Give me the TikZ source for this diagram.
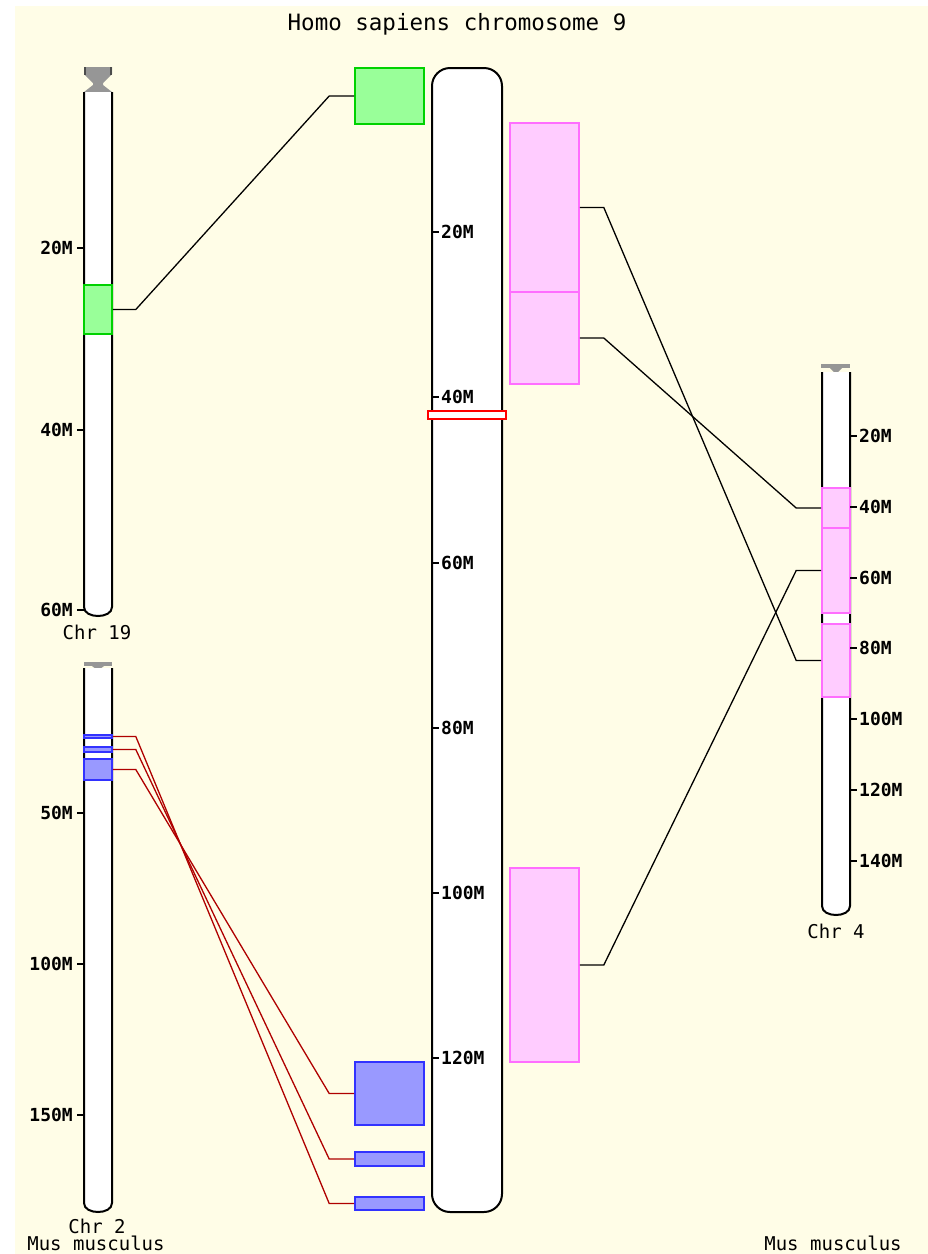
\documentclass[tikz,border=0pt]{standalone}
\usepackage{fontspec}
\setmonofont{DejaVu Sans Mono}
\definecolor{cream}{RGB}{255,253,231}
\definecolor{hitgreen}{RGB}{153,255,153}
\definecolor{edgegreen}{RGB}{0,210,0}
\definecolor{hitpink}{RGB}{255,204,255}
\definecolor{edgepink}{RGB}{255,110,255}
\definecolor{hitblue}{RGB}{153,153,255}
\definecolor{edgeblue}{RGB}{50,50,255}
\definecolor{linkred}{RGB}{175,0,0}
\definecolor{capgray}{RGB}{150,150,150}
\tikzset{chrom/.style={draw=black, fill=white, line width=2pt},
  hit/.style={rectangle, inner sep=0pt, line width=1.6pt},
  greenhit/.style={hit, draw=edgegreen, fill=hitgreen},
  pinkhit/.style={hit, draw=edgepink, fill=hitpink},
  bluehit/.style={hit, draw=edgeblue, fill=hitblue},
  link/.style={black, line width=1.3pt},
  redlink/.style={linkred, line width=1.3pt},
  mtick/.style={black, line width=2pt},
  ticklab/.style={inner sep=0pt, font=\ttfamily\bfseries\fontsize{18}{18}\selectfont},
  chrlab/.style={inner sep=0pt, text height=12pt, text depth=1pt, font=\ttfamily\fontsize{19}{19}\selectfont}}

\begin{document}
\begin{tikzpicture}[x=1pt, y=-1pt]
  \useasboundingbox (0,0) rectangle (928,1254);
  \fill[white] (0,0) rectangle (928,1254);
  \fill[cream] (15,6) rectangle (928,1254);
  \node[chrlab, text height=16pt, font=\ttfamily\fontsize{22.5}{22.5}\selectfont] (title) at (457,23) {Homo sapiens chromosome 9};

  \begin{scope}
   \fill[capgray] (84,67) -- (112,67) -- (112,74) -- (103,83) -- (103,85) -- (112,92)
     -- (84,92) -- (93,85) -- (93,83) -- (84,74) -- cycle;
   \draw[black!70, line width=2pt] (85,67) -- (85,75) (111,67) -- (111,75);
   \draw[chrom] (84,92) -- (84,607) .. controls (84,619) and (112,619) .. (112,607) -- (112,92);
   \node[greenhit, minimum width=28, minimum height=49] (c19a) at (98,309.5) {};
   \foreach \y/\lab in {248/20M,430/40M,610/60M} {
     \draw[mtick] (77,\y) -- (84,\y);
     \node[ticklab, anchor=east] (l19\lab) at (73,\y) {\lab};
   }
   \node[chrlab] (chr19) at (97,634) {Chr 19};
  \end{scope}

  \begin{scope}
   \fill[capgray] (84,662) rectangle (112,666);
   \fill[capgray] (92,666) -- (104,666) -- (100,669) -- (96,669) -- cycle;
   \draw[chrom] (84,668) -- (84,1203) .. controls (84,1215) and (112,1215) .. (112,1203) -- (112,668);
   \node[bluehit, minimum width=28, minimum height=3] (c2a) at (98,736.5) {};
   \node[bluehit, minimum width=28, minimum height=5] (c2b) at (98,749.5) {};
   \node[bluehit, minimum width=28, minimum height=21] (c2c) at (98,769.5) {};
   \foreach \y/\lab in {813/50M,964/100M,1115/150M} {
     \draw[mtick] (77,\y) -- (84,\y);
     \node[ticklab, anchor=east] (l2\lab) at (73,\y) {\lab};
   }
   \node[chrlab] (chr2) at (97,1228) {Chr 2};
   \node[chrlab] (mus2) at (96,1245) {Mus musculus};
  \end{scope}

  \begin{scope}
   \draw[chrom, rounded corners=18pt] (432,68) rectangle (502,1212);
   \foreach \y/\lab in {232/20M,397/40M,563/60M,728/80M,893/100M,1058/120M} {
     \draw[mtick] (432,\y) -- (439,\y);
     \node[ticklab, anchor=west] (l9\lab) at (441,\y) {\lab};
   }
   \node[hit, draw=red, fill=white, minimum width=78, minimum height=8] (mark) at (467,415) {};
   \node[greenhit, minimum width=69, minimum height=56] (g9a) at (389.5,96) {};
   \node[bluehit, minimum width=69, minimum height=63] (b9a) at (389.5,1093.5) {};
   \node[bluehit, minimum width=69, minimum height=14] (b9b) at (389.5,1159) {};
   \node[bluehit, minimum width=69, minimum height=13] (b9c) at (389.5,1203.5) {};
   \node[pinkhit, minimum width=69, minimum height=169] (p9a) at (544.5,207.5) {};
   \node[pinkhit, minimum width=69, minimum height=92] (p9b) at (544.5,338) {};
   \node[pinkhit, minimum width=69, minimum height=194] (p9c) at (544.5,965) {};
  \end{scope}

  \begin{scope}
   \fill[capgray] (821,364) rectangle (850,368);
   \fill[capgray] (830,368) -- (842,368) -- (838,372) -- (834,372) -- cycle;
   \draw[chrom] (822,372) -- (822,906) .. controls (822,918) and (850,918) .. (850,906) -- (850,372);
   \node[pinkhit, minimum width=28, minimum height=40] (c4a) at (836,508) {};
   \node[pinkhit, minimum width=28, minimum height=85] (c4b) at (836,570.5) {};
   \node[pinkhit, minimum width=28, minimum height=73] (c4c) at (836,660.5) {};
   \foreach \y/\lab in {436/20M,507/40M,578/60M,648/80M,719/100M,790/120M,861/140M} {
     \draw[mtick] (850,\y) -- (857,\y);
     \node[ticklab, anchor=west] (l4\lab) at (859,\y) {\lab};
   }
   \node[chrlab] (chr4) at (836,933) {Chr 4};
   \node[chrlab] (mus4) at (833,1245) {Mus musculus};
  \end{scope}

  \draw[link] (c19a.east) -- ++(23,0) -- ([xshift=-25pt]g9a.west) -- (g9a.west);
  \draw[redlink] (c2a.east) -- ++(23,0) -- ([xshift=-25pt]b9c.west) -- (b9c.west);
  \draw[redlink] (c2b.east) -- ++(23,0) -- ([xshift=-25pt]b9b.west) -- (b9b.west);
  \draw[redlink] (c2c.east) -- ++(23,0) -- ([xshift=-25pt]b9a.west) -- (b9a.west);
  \draw[link] (p9a.east) -- ++(24,0) -- ([xshift=-25pt]c4c.west) -- (c4c.west);
  \draw[link] (p9b.east) -- ++(24,0) -- ([xshift=-25pt]c4a.west) -- (c4a.west);
  \draw[link] (p9c.east) -- ++(24,0) -- ([xshift=-25pt]c4b.west) -- (c4b.west);
\end{tikzpicture}
\end{document}
